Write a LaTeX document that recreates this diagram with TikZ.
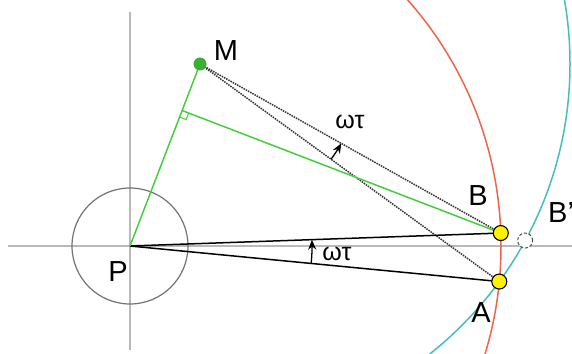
\documentclass[tikz,border=0pt]{standalone}
\usepackage{fontspec}
\setmainfont{Liberation Sans}
\usetikzlibrary{calc,arrows.meta}
\definecolor{redc}{RGB}{240,100,75}
\definecolor{cyanc}{RGB}{70,190,190}
\definecolor{greenc}{RGB}{70,205,60}
\definecolor{axisc}{RGB}{185,185,185}
\tikzset{
  axisline/.style={axisc, line width=1.2pt},
  mainline/.style={black, line width=1.5pt},
  dotline/.style={black!80, line width=1.5pt, densely dotted},
  greenline/.style={greenc, line width=1.5pt},
  angarrow/.style={black, line width=1.3pt, -{Stealth[length=10pt,width=8pt]}},
  ptyellow/.style={circle, draw=black, line width=1.1pt, fill=yellow, minimum size=15pt, inner sep=0pt},
  ptghost/.style={circle, draw=black!70, densely dashed, line width=1pt, fill=white, minimum size=15pt, inner sep=0pt},
  lbl/.style={font=\fontsize{29}{31}\selectfont, inner sep=0pt},
  anglbl/.style={font=\fontsize{25}{27}\selectfont, inner sep=0pt}
}
\begin{document}
\begin{tikzpicture}[x=1pt,y=1pt]
\useasboundingbox (-130,-107) rectangle (442,246);
\clip (-130,-107) rectangle (442,246);
\coordinate (P) at (0,0);
\coordinate (M) at (70,182);
\coordinate (A) at (-5.5:371);
\coordinate (B) at (2:371);
\coordinate (Bp) at ($(M)+(-28.5:370)$);
\coordinate (F) at ($(P)!(B)!(M)$);
% axes
\draw[axisline] (-122,0) coordinate (xl) -- (442,0) coordinate (xr);
\draw[axisline] (0,234) coordinate (yt) -- (0,-104) coordinate (yb);
% circles
\draw[redc, line width=1.5pt] (P) circle[radius=371];
\draw[cyanc, line width=1.5pt] (M) circle[radius=370];
\draw[black!55, line width=1.2pt] (P) circle[radius=58];
% dotted lines from M
\draw[dotline] (M) -- (B);
\draw[dotline] (M) -- (A);
% main black lines
\draw[mainline] (P) -- (B);
\draw[mainline] (P) -- (A);
% green lines
\draw[greenline] (P) -- (M);
\draw[greenline] (F) -- (B);
\coordinate (F1) at ($(F)!7pt!(P)$);
\coordinate (F2) at ($(F)!7pt!(B)$);
\draw[greenc, line width=1pt] (F1) -- ($(F1)+(F2)-(F)$) -- (F2);
% angle arrows
\draw[angarrow] ($(M)+(-36.0:162)$) arc[start angle=-36.0, end angle=-29.3, radius=162];
\draw[angarrow] ($(P)+(-5.5:182)$) arc[start angle=-5.5, end angle=2, radius=182];
\node[anglbl] (w1) at (220,124) {ωτ};
\node[anglbl] (w2) at (207,-8) {ωτ};
% points
\node[circle, fill=greenc!85!black, minimum size=13pt, inner sep=0pt] (Mn) at (M) {};
\node[ptyellow] (An) at (A) {};
\node[ptyellow] (Bn) at (B) {};
\node[ptghost] (Bpn) at (Bp) {};
% labels
\node[lbl] (lM) at (96,195) {M};
\node[lbl] (lB) at (348,50) {B};
\node[lbl, anchor=west] (lBp) at (418,33) {B'};
\node[lbl] (lA) at (351,-67) {A};
\node[lbl] (lP) at (-12,-26) {P};
\end{tikzpicture}
\end{document}
